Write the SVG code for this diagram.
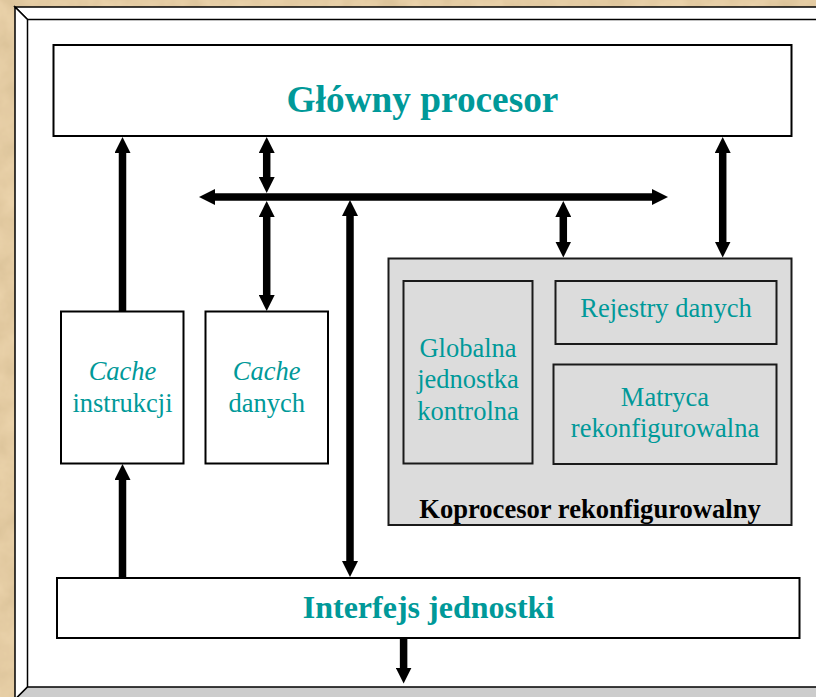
<svg xmlns="http://www.w3.org/2000/svg" width="816" height="697" viewBox="0 0 816 697">
<defs>
<filter id="paper" x="0" y="0" width="100%" height="100%">
<feTurbulence type="fractalNoise" baseFrequency="0.035" numOctaves="4" seed="7" result="n"/>
<feColorMatrix in="n" type="matrix" values="0 0 0 0 0.55  0 0 0 0 0.40  0 0 0 0 0.20  0 0 0 0.6 -0.1" result="c"/>
<feComposite in="c" in2="SourceGraphic" operator="over"/>
</filter>
<marker id="ah" viewBox="0 0 16 16" refX="6" refY="8" markerWidth="16" markerHeight="16" markerUnits="userSpaceOnUse" orient="auto-start-reverse">
<path d="M0,0 L16,8 L0,16 z" fill="#000"/>
</marker>
<style>
.box{fill:#fff;stroke:#000;stroke-width:2}
.gbox{fill:#dcdcdc;stroke:#1a1a1a;stroke-width:2}
text{font-family:'Liberation Serif','Times New Roman',Times,serif}
.t{fill:#009999;text-anchor:middle}
.b{font-weight:bold}
.k{fill:#000}
.c line{stroke:#000;stroke-width:7.5}
.bev{stroke:#000;stroke-width:1.5;stroke-linejoin:miter}
</style>
</defs>
<rect x="0" y="0" width="816" height="697" fill="#ebd3ab" filter="url(#paper)"/>
<g id="frame">
<rect x="27.5" y="19.5" width="800" height="668" fill="#fff"/>
<polygon class="bev" points="15,7 830,7 818,19.5 27.5,19.5" fill="#fff"/>
<polygon class="bev" points="15,7 27.5,19.5 27.5,687 15,699.5" fill="#fff"/>
<polygon class="bev" points="15,699.5 27.5,687 820,687 832,699.5" fill="#cccccc"/>
</g>
<g id="main-processor">
<rect class="box" x="53.5" y="45" width="738" height="91"/>
<text class="t b" x="422.5" y="112" font-size="37.3">Główny procesor</text>
</g>
<g id="cache-instr">
<rect class="box" x="61" y="311.5" width="122.5" height="152"/>
<text class="t" x="122.5" y="380" font-size="26.5" font-style="italic">Cache</text>
<text class="t" x="122.5" y="411.5" font-size="26.5">instrukcji</text>
</g>
<g id="cache-data">
<rect class="box" x="205.5" y="311.5" width="122.5" height="152"/>
<text class="t" x="266.7" y="380" font-size="26.5" font-style="italic">Cache</text>
<text class="t" x="266.7" y="411.5" font-size="26.5">danych</text>
</g>
<g id="coprocessor">
<rect class="gbox" x="388.5" y="258.5" width="403" height="266.5"/>
<text class="t b k" x="590" y="518" font-size="26.6">Koprocesor rekonfigurowalny</text>
</g>
<g id="global-control">
<rect class="gbox" x="403.5" y="281" width="129" height="182.5"/>
<text class="t" x="468" y="356.5" font-size="26.5">Globalna</text>
<text class="t" x="468" y="388" font-size="26.5">jednostka</text>
<text class="t" x="468" y="419.5" font-size="26.5">kontrolna</text>
</g>
<g id="data-registers">
<rect class="gbox" x="555.5" y="281" width="221" height="63"/>
<text class="t" x="666" y="316.5" font-size="26.5">Rejestry danych</text>
</g>
<g id="matrix">
<rect class="gbox" x="553.5" y="364.5" width="223" height="99.5"/>
<text class="t" x="665" y="406" font-size="26.5">Matryca</text>
<text class="t" x="665" y="436.5" font-size="26.5">rekonfigurowalna</text>
</g>
<g id="interface">
<rect class="box" x="57" y="578" width="742.5" height="60"/>
<text class="t b" x="428.5" y="618" font-size="32">Interfejs jednostki</text>
</g>
<g id="connectors" class="c">
<line x1="122.5" y1="311.5" x2="122.5" y2="147" marker-end="url(#ah)"/>
<line x1="122.5" y1="578" x2="122.5" y2="474" marker-end="url(#ah)"/>
<line x1="209" y1="197" x2="658" y2="197" marker-start="url(#ah)" marker-end="url(#ah)"/>
<line x1="266.7" y1="147" x2="266.7" y2="183" marker-start="url(#ah)" marker-end="url(#ah)"/>
<line x1="266.7" y1="211" x2="266.7" y2="301" marker-start="url(#ah)" marker-end="url(#ah)"/>
<line x1="350" y1="210" x2="350" y2="567" marker-start="url(#ah)" marker-end="url(#ah)"/>
<line x1="563.3" y1="211" x2="563.3" y2="247.5" marker-start="url(#ah)" marker-end="url(#ah)"/>
<line x1="722.7" y1="147" x2="722.7" y2="247.5" marker-start="url(#ah)" marker-end="url(#ah)"/>
<line x1="403.6" y1="638" x2="403.6" y2="673.5" marker-end="url(#ah)"/>
</g>
</svg>
